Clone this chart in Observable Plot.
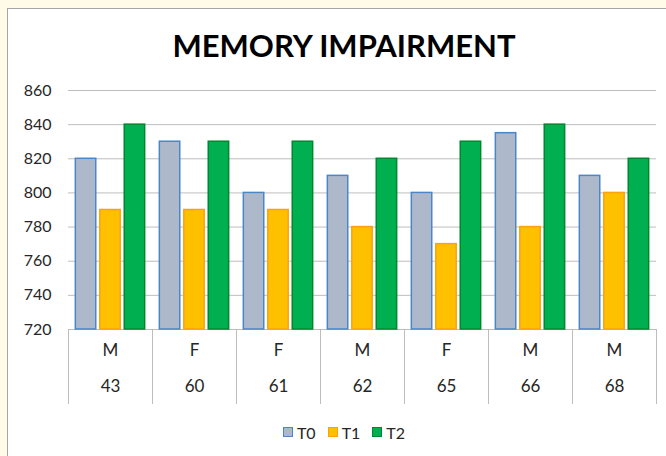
<!DOCTYPE html>
<html>
<head>
<meta charset="utf-8">
<script src="https://cdn.jsdelivr.net/npm/d3@7"></script>
<script src="https://cdn.jsdelivr.net/npm/@observablehq/plot@0.6"></script>
<style>
  html, body { margin: 0; padding: 0; background: #fffbe8; width: 666px; height: 456px; overflow: hidden; }
  #box { position: absolute; left: 7px; top: 8px; width: 672px; height: 470px; background: #fff; border: 1px solid #a6a6a6; font-family: Lato, "Open Sans", sans-serif; }
  #title { height: 72px; line-height: 72px; text-align: center; font-weight: bold; font-size: 31px; color: #000; }
  #chart svg { display: block; }
  #legend { height: 56px; display: flex; justify-content: center; align-items: center; font-size: 16px; color: #262626; }
  .item { display: flex; align-items: center; margin: 0 6px; }
  .sw { width: 8px; height: 8px; border: 1.5px solid; margin-right: 4px; }
</style>
</head>
<body>
<div id="box">
  <div id="title">MEMORY IMPAIRMENT</div>
  <div id="chart"></div>
  <div id="legend"></div>
</div>
<script>
const groups = ["43", "60", "61", "62", "65", "66", "68"];
const sexes = ["M", "F", "F", "M", "F", "M", "M"];
const series = ["T0", "T1", "T2"];
const t0 = [820, 830, 800, 810, 800, 835, 810];
const t1 = [790, 790, 790, 780, 770, 780, 800];
const t2 = [840, 830, 830, 820, 830, 840, 820];
const yTicks = [720, 740, 760, 780, 800, 820, 840, 860];
const fills = ["#adb9ca", "#ffc000", "#00b050"];
const strokes = ["#4a86c8", "#ffa010", "#00882f"];

const valuesBySeries = [t0, t1, t2];
const data = [];
groups.forEach((g, i) => series.forEach((s, j) => data.push({group: g, series: s, value: valuesBySeries[j][i]})));
const cats = groups.map((g, i) => ({group: g, sex: sexes[i]}));
const yMin = yTicks[0];

const W = 672, H = 323, MT = 9, MB = 75;
const plotH = H - MT - MB;

const chart = Plot.plot({
  width: W,
  height: H,
  marginLeft: 60,
  marginRight: 24,
  marginTop: MT,
  marginBottom: MB,
  style: {fontFamily: "Lato, 'Open Sans', sans-serif", fontSize: "16px", color: "#262626", background: "transparent"},
  fx: {domain: groups, padding: 0, axis: null, round: false},
  x: {domain: series, paddingInner: 0.165, paddingOuter: 0.3, axis: null, round: false},
  y: {domain: [yTicks[0], yTicks[yTicks.length - 1]], axis: null},
  color: {domain: series, range: fills},
  marks: [
    Plot.gridY(yTicks, {stroke: "#bdbdbd", strokeOpacity: 1, strokeWidth: 1}),
    Plot.barY(data, {
      fx: "group", x: "series", y1: () => yMin, y2: "value",
      fill: "series",
      stroke: d => strokes[series.indexOf(d.series)],
      strokeWidth: 1.5
    }),
    Plot.frame({anchor: "left", stroke: "#bdbdbd", strokeOpacity: 1, insetTop: plotH, insetBottom: -74}),
    Plot.frame({anchor: "right", stroke: "#bdbdbd", strokeOpacity: 1, insetTop: plotH, insetBottom: -74}),
    Plot.text(cats, {fx: "group", text: "sex", frameAnchor: "bottom", dy: 26, fontSize: 17, fill: "#262626"}),
    Plot.text(cats, {fx: "group", text: "group", frameAnchor: "bottom", dy: 62, fontSize: 17, fill: "#262626"}),
    Plot.axisY(yTicks, {tickSize: 0, tickPadding: 17, fontSize: 16, fill: "#262626", label: null})
  ]
});
document.getElementById("chart").appendChild(chart);

const legend = document.getElementById("legend");
series.forEach((s, i) => {
  const item = document.createElement("div");
  item.className = "item";
  const sw = document.createElement("div");
  sw.className = "sw";
  sw.style.background = fills[i];
  sw.style.borderColor = strokes[i];
  const label = document.createElement("span");
  label.textContent = s;
  item.appendChild(sw);
  item.appendChild(label);
  legend.appendChild(item);
});
</script>
</body>
</html>
